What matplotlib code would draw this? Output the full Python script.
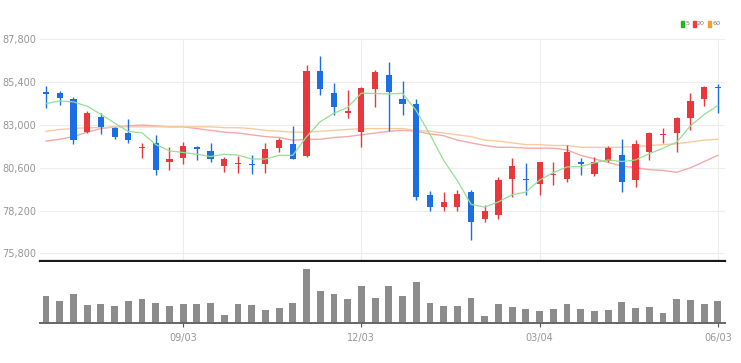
import matplotlib
matplotlib.use("Agg")
import matplotlib.pyplot as plt
from matplotlib.patches import Rectangle
from matplotlib.ticker import FuncFormatter
import numpy as np

plt.rcParams['font.family'] = ['Liberation Sans Narrow', 'DejaVu Sans']

# candles (weekly), korean colour convention: red = up, blue = down
opens = [84850, 84800, 84450, 82600, 83450, 82850, 82550, 81700, 82000, 80950,
         81150, 81750, 81550, 80700, 80800, 80800, 80800, 81700, 81950, 81250,
         86050, 84800, 83700, 82600, 85000, 85800, 84450, 84200, 79100, 78400,
         78400, 79250, 77700, 77950, 79950, 79950, 79700, 80200, 79950, 80900,
         80250, 81000, 81300, 79900, 81500, 82450, 82550, 83400, 84450, 85150]
highs = [85200, 84900, 84600, 83800, 83700, 82900, 83350, 82000, 82450, 81750,
         82050, 81850, 82000, 81200, 81250, 81300, 82000, 82250, 82950, 86350,
         86900, 85350, 84950, 85150, 86100, 86550, 85450, 84450, 79300, 79250,
         79350, 79350, 78500, 80100, 81150, 80850, 80950, 80900, 81900, 81150,
         81200, 81850, 82200, 82150, 82600, 82850, 83450, 84800, 85200, 85300]
lows = [83950, 84150, 81950, 82550, 82500, 82200, 82000, 81150, 80200, 80500,
        80800, 81050, 80950, 80350, 80300, 80250, 80300, 81500, 81100, 81200,
        84700, 83550, 83400, 81750, 84000, 82650, 83550, 78800, 78150, 78150,
        78150, 76550, 77550, 77700, 78950, 79100, 79050, 79650, 79800, 80200,
        80150, 80900, 79250, 79500, 81050, 82000, 81500, 82700, 84050, 83700]
closes = [84750, 84500, 82150, 83700, 82900, 82300, 82150, 81750, 80450, 81100,
          81850, 81650, 81100, 81100, 80850, 80750, 81650, 82150, 81100, 86050,
          85000, 84000, 83800, 85100, 85950, 84850, 84200, 78950, 78400, 78700,
          79150, 77550, 78150, 79900, 80700, 79900, 80900, 80250, 81500, 80800,
          80950, 81700, 79800, 81950, 82550, 82500, 83400, 84350, 85150, 85050]
volumes = [27, 22, 29, 17.7, 18.7, 17, 22, 24, 20, 17,
           18.7, 19.3, 20, 7.7, 19.3, 17.7, 13, 15.3, 20, 54,
           32.3, 29.3, 24, 37.3, 25.3, 37.3, 27, 40.7, 20, 17,
           17, 25.3, 6.7, 19.3, 16, 14.3, 12, 14, 18.7, 14,
           11.7, 12.7, 21, 15.3, 16, 10.3, 23.7, 22.7, 18.7, 22]

# moving averages as drawn
ma5 = [84200, 84350, 84300, 84050, 83600, 83110, 82640, 82560, 81910, 81550,
       81460, 81360, 81230, 81360, 81310, 81090, 81090, 81300, 81300, 82340,
       83190, 83660, 83990, 84790, 84770, 84740, 84780, 83810, 82470, 81020,
       79880, 78550, 78390, 78690, 79090, 79240, 79910, 80330, 80650, 80670,
       80880, 81040, 80950, 81040, 81390, 81700, 82040, 82950, 83590, 84090]
ma20 = [82100, 82200, 82350, 82600, 82800, 82900, 82950, 83000, 82950, 82900,
        82900, 82800, 82700, 82600, 82550, 82450, 82350, 82300, 82150, 82200,
        82200, 82300, 82350, 82450, 82550, 82650, 82700, 82650, 82500, 82400,
        82150, 82000, 81850, 81750, 81750, 81700, 81700, 81700, 81600, 81300,
        81100, 80900, 80700, 80600, 80500, 80450, 80350, 80600, 80950, 81300]
ma60 = [82650, 82750, 82800, 82850, 82850, 82900, 82900, 82900, 82900, 82900,
        82900, 82900, 82900, 82850, 82850, 82800, 82700, 82650, 82600, 82600,
        82650, 82700, 82750, 82800, 82800, 82800, 82800, 82700, 82650, 82550,
        82450, 82350, 82150, 82100, 82000, 81900, 81900, 81850, 81850, 81750,
        81750, 81750, 81750, 81800, 81850, 81900, 81950, 82050, 82150, 82200]

price_ticks = [75800, 78200, 80600, 83000, 85400, 87800]
date_pos = [10, 23, 36, 49]
date_labels = ['09/03', '12/03', '03/04', '06/03']

RED = '#e8383d'
BLUE = '#1c6fe3'
GRID = '#ededed'
TXT = '#959595'

x = np.arange(len(closes))
o = np.array(opens)
c = np.array(closes)
up = c >= o
colors = [RED if u else BLUE for u in up]

fig = plt.figure(figsize=(7.41, 3.63), dpi=100)
ax = fig.add_axes([0.054, 0.281, 0.924, 0.6127])
axv = fig.add_axes([0.054, 0.1102, 0.924, 0.168], sharex=ax)

# price panel
ax.set_axisbelow(True)
ax.grid(True, color=GRID, linewidth=0.8)
ax.vlines(x, lows, highs, colors=colors, linewidth=1.0, zorder=2)
body_low = np.minimum(o, c)
body_h = np.maximum(np.abs(c - o), 70)
ax.bar(x, body_h, bottom=body_low, width=0.45, color=colors, zorder=3)
ax.plot(x, ma5, color='#93e093', linewidth=0.9, zorder=4)
ax.plot(x, ma20, color='#f5a8aa', linewidth=1.0, zorder=1.5)
ax.plot(x, ma60, color='#f7cba0', linewidth=1.0, zorder=1.5)

ax.set_xlim(-0.44, 49.5)
ax.set_ylim(75370, 87850)
ax.set_yticks(price_ticks)
ax.yaxis.set_major_formatter(FuncFormatter(lambda v, p: f'{int(v):,}'))
ax.set_xticks(date_pos)
ax.tick_params(axis='x', length=0, labelbottom=False)
ax.tick_params(axis='y', length=0, pad=2.5, labelsize=7, labelcolor=TXT)
for s in ['top', 'right', 'left']:
    ax.spines[s].set_visible(False)
ax.spines['bottom'].set_color('#1a1a1a')
ax.spines['bottom'].set_linewidth(1.6)

# volume panel
axv.bar(x, volumes, width=0.5, color='#8c8c8c')
axv.set_ylim(0, 61)
axv.set_yticks([])
axv.set_xticks(date_pos)
axv.set_xticklabels(date_labels)
axv.tick_params(axis='x', length=3, width=0.8, color='#555555', pad=4,
                labelsize=7, labelcolor=TXT)
for s in ['top', 'right', 'left']:
    axv.spines[s].set_visible(False)
axv.spines['bottom'].set_color('#666666')
axv.spines['bottom'].set_linewidth(1.4)

# legend (top right)
W, H = 741, 363
items = [(680.5, '#22b422', '5'), (692.5, '#f03c3c', '20'), (708.0, '#f0a030', '60')]
for px, col, lab in items:
    fig.patches.append(Rectangle((px / W, 1 - 26.5 / H), 3.0 / W, 5.5 / H,
                                 transform=fig.transFigure, color=col))
    fig.text((px + 4.5) / W, 1 - 23.7 / H, lab, fontsize=4.6, color='#777777',
             va='center', ha='left')

fig.savefig('out.png', dpi=100, facecolor='white')
